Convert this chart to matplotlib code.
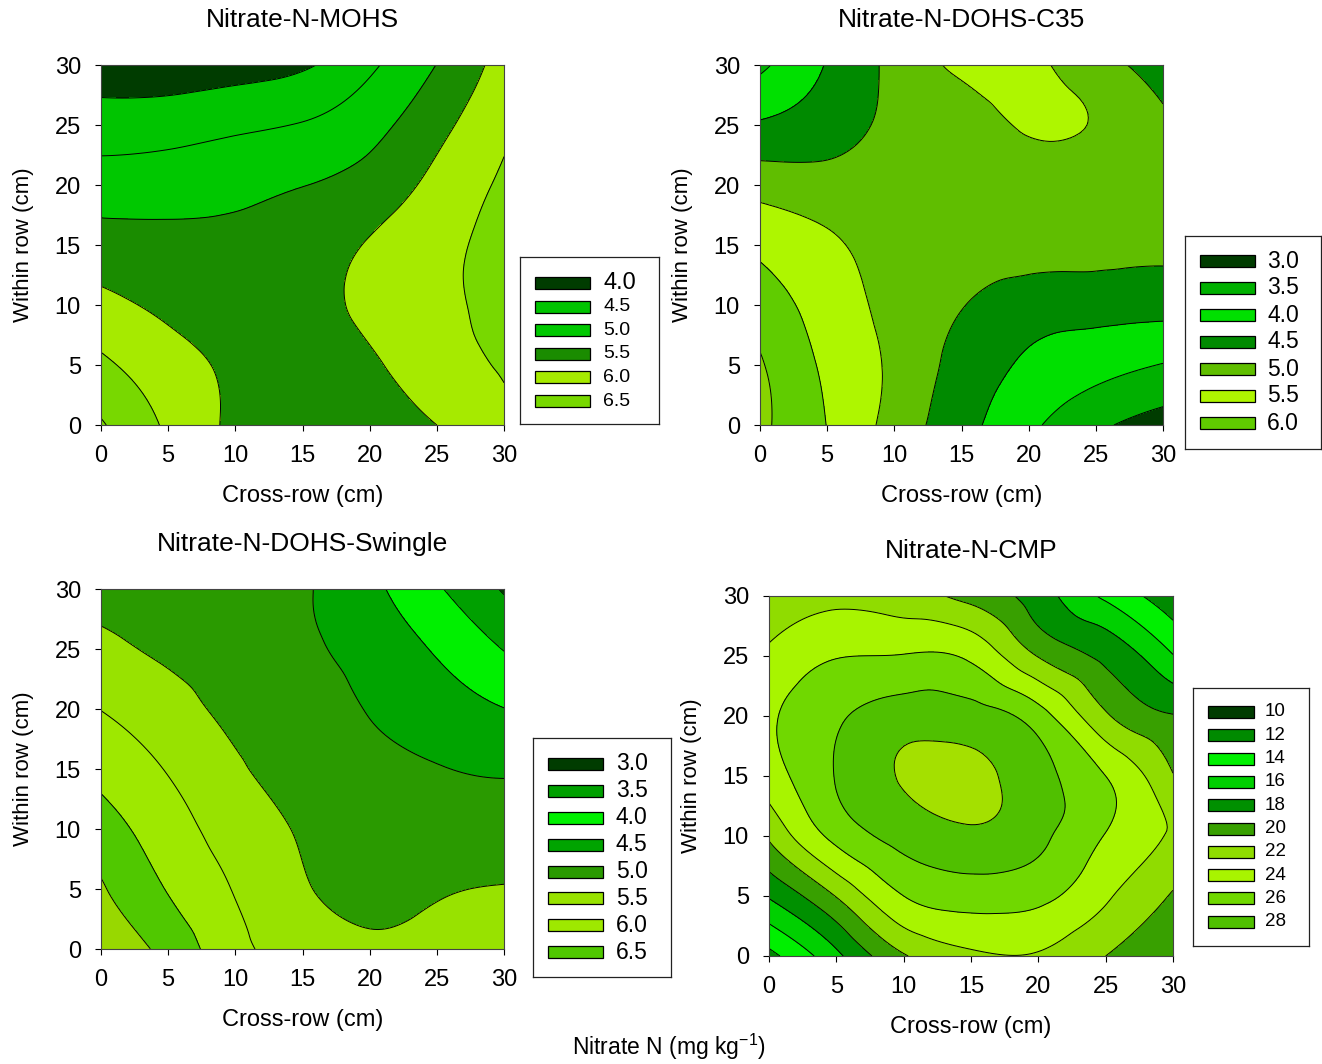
import numpy as np
import matplotlib
matplotlib.use('Agg')
import matplotlib.pyplot as plt
from matplotlib.tri import Triangulation, UniformTriRefiner
from matplotlib.patches import Rectangle

plt.rcParams['font.family'] = ['Liberation Sans', 'DejaVu Sans']
plt.rcParams['mathtext.fontset'] = 'custom'
plt.rcParams['mathtext.rm'] = 'Liberation Sans'

# ---------------- data ----------------
x_cm = [0, 5, 10, 15, 20, 25, 30]          # cross-row positions
y_cm = [0, 5, 10, 15, 20, 25, 30]          # within-row positions
ticks = [0, 5, 10, 15, 20, 25, 30]

# rows: y = 0..30, columns: x = 0..30  (nitrate N, mg/kg)
mohs = [
    [7.05, 6.42, 5.90, 5.70, 5.80, 6.00, 6.40],
    [6.60, 6.20, 5.90, 5.75, 5.93, 6.26, 6.55],
    [6.14, 5.90, 5.75, 5.80, 6.12, 6.37, 6.70],
    [5.70, 5.63, 5.60, 5.72, 6.04, 6.35, 6.68],
    [5.24, 5.28, 5.375, 5.49, 5.70, 6.14, 6.58],
    [4.74, 4.78, 4.90, 5.03, 5.33, 5.85, 6.40],
    [4.22, 4.20, 4.28, 4.43, 4.91, 5.51, 6.20],
]
dohs_c35 = [
    [6.60, 5.99, 5.31, 4.68, 4.11, 3.60, 3.30],
    [6.55, 5.91, 5.40, 4.82, 4.43, 4.19, 3.98],
    [6.25, 5.78, 5.35, 5.02, 4.74, 4.70, 4.68],
    [5.89, 5.59, 5.30, 5.20, 5.20, 5.15, 5.10],
    [5.30, 5.19, 5.20, 5.24, 5.30, 5.25, 5.20],
    [4.56, 4.78, 5.10, 5.30, 5.55, 5.46, 5.08],
    [3.90, 4.53, 5.13, 5.60, 5.60, 5.20, 4.80],
]
dohs_swingle = [
    [7.25, 6.85, 6.14, 5.80, 5.60, 5.65, 5.70],
    [7.05, 6.47, 5.97, 5.55, 5.35, 5.45, 5.52],
    [6.72, 6.22, 5.78, 5.45, 5.25, 5.20, 5.23],
    [6.35, 5.97, 5.57, 5.30, 5.15, 5.02, 4.95],
    [5.99, 5.69, 5.40, 5.25, 4.97, 4.74, 4.51],
    [5.63, 5.42, 5.30, 5.10, 4.81, 4.45, 3.98],
    [5.30, 5.25, 5.20, 5.05, 4.63, 4.06, 3.45],
]
cmp_ = [
    [13.4, 17.5, 21.8, 23.6, 23.8, 22.0, 21.0],
    [18.2, 22.1, 26.0, 26.9, 26.5, 24.3, 21.8],
    [22.3, 26.6, 28.7, 29.6, 28.5, 25.9, 23.8],
    [25.0, 28.1, 30.2, 30.6, 28.7, 26.0, 22.1],
    [25.7, 27.7, 29.0, 28.8, 26.9, 22.3, 20.1],
    [24.4, 25.9, 26.1, 25.6, 21.9, 19.5, 16.1],
    [22.6, 23.4, 22.9, 21.3, 19.0, 15.6, 12.8],
]

# contour levels (inner) and legend labels
mohs_levels = [4.5, 5.0, 5.5, 6.0, 6.5, 7.0]
mohs_labels = ['4.0', '4.5', '5.0', '5.5', '6.0', '6.5']
mohs_colors = ['#003c00', '#00c400', '#00c800', '#1a8c00', '#a6ea00', '#78d800', '#78d800']

c35_levels = [3.5, 4.0, 4.5, 5.0, 5.5, 6.0, 6.5]
c35_labels = ['3.0', '3.5', '4.0', '4.5', '5.0', '5.5', '6.0']
c35_colors = ['#003c00', '#00b000', '#00e000', '#008a00', '#60be00', '#aef600', '#60cc00', '#88d400']

sw_levels = [3.5, 4.0, 4.5, 5.0, 5.5, 6.0, 6.5, 7.0]
sw_labels = ['3.0', '3.5', '4.0', '4.5', '5.0', '5.5', '6.0', '6.5']
sw_colors = ['#003c00', '#00a000', '#00f000', '#00a400', '#2a9a00', '#98e200', '#9ee800', '#50c800', '#98d800']

cmp_levels = [12, 14, 16, 18, 20, 22, 24, 26, 28, 30]
cmp_labels = ['10', '12', '14', '16', '18', '20', '22', '24', '26', '28']
cmp_colors = ['#003c00', '#008a00', '#00f000', '#00d000', '#009000', '#38a000',
              '#90dc00', '#a8f400', '#70d800', '#50c000', '#a4e000']

# ---------------- figure ----------------
W, H = 1322, 1064
fig = plt.figure(figsize=(W / 100, H / 100), dpi=100)


def panel(px_box, z, levels, colors, title):
    l, t, r, b = px_box
    ax = fig.add_axes([l / W, 1 - b / H, (r - l) / W, (b - t) / H])
    X, Y = np.meshgrid(x_cm, y_cm)
    tri = Triangulation(X.ravel().astype(float), Y.ravel().astype(float))
    zz = np.asarray(z, float).ravel()
    ref = UniformTriRefiner(tri)
    tri_r, z_r = ref.refine_field(zz, subdiv=4)
    full = [-1000] + list(levels) + [1000]
    ax.tricontourf(tri_r, z_r, levels=full, colors=colors)
    ax.tricontour(tri_r, z_r, levels=levels, colors='black', linewidths=0.7)
    ax.set_xlim(0, 30)
    ax.set_ylim(0, 30)
    ax.set_xticks(ticks)
    ax.set_yticks(ticks)
    ax.tick_params(direction='out', length=4.5, width=0.8, pad=10, labelsize=17,
                   top=False, right=False)
    for s in ax.spines.values():
        s.set_linewidth(0.8)
        s.set_color('#444444')
    ax.text(0.5, 1.124, title, transform=ax.transAxes, ha='center', va='center', fontsize=19)
    ax.set_xlabel('Cross-row (cm)', fontsize=17)
    ax.xaxis.set_label_coords(0.5, -0.168)
    ax.set_ylabel('Within row (cm)', fontsize=16)
    ax.yaxis.set_label_coords(-0.166, 0.5)
    return ax


def legend_box(box, labels, colors, y0, dy, patch_x, pw, text_x, fsizes):
    l, t, r, b = box
    lax = fig.add_axes([l / W, 1 - b / H, (r - l) / W, (b - t) / H])
    lax.set_xlim(l, r)
    lax.set_ylim(b, t)
    lax.set_xticks([])
    lax.set_yticks([])
    for s in lax.spines.values():
        s.set_linewidth(0.9)
        s.set_color('#222222')
    for i, (lab, col) in enumerate(zip(labels, colors)):
        yc = y0 + i * dy
        lax.add_patch(Rectangle((patch_x, yc - 6), pw, 12, facecolor=col,
                                edgecolor='black', linewidth=0.9))
        lax.text(text_x, yc, lab, ha='left', va='center', fontsize=fsizes[i])


panel((101, 65, 504, 425), mohs, mohs_levels, mohs_colors, 'Nitrate-N-MOHS')
panel((760, 65, 1163, 425), dohs_c35, c35_levels, c35_colors, 'Nitrate-N-DOHS-C35')
panel((101, 589, 504, 949), dohs_swingle, sw_levels, sw_colors, 'Nitrate-N-DOHS-Swingle')
panel((769, 596, 1173, 956), cmp_, cmp_levels, cmp_colors, 'Nitrate-N-CMP')

legend_box((520, 257, 659, 424), mohs_labels, mohs_colors[:6], 283, 23.6, 535, 55, 603,
           [17] + [14] * 5)
legend_box((1185, 236, 1321, 449), c35_labels, c35_colors[:7], 261, 27, 1200, 55, 1267,
           [16.5] * 7)
legend_box((533, 738, 671, 977), sw_labels, sw_colors[:8], 764, 26.9, 548, 55, 616,
           [16.5] * 8)
legend_box((1193, 688, 1309, 946), cmp_labels, cmp_colors[:10], 712, 23.3, 1208, 46, 1265,
           [13.5] * 10)

fig.text(669 / W, 1 - 1047 / H, 'Nitrate N (mg kg$^{\\mathregular{-1}}$)', ha='center', va='center',
         fontsize=16.5)

fig.savefig('out.png', dpi=100)
